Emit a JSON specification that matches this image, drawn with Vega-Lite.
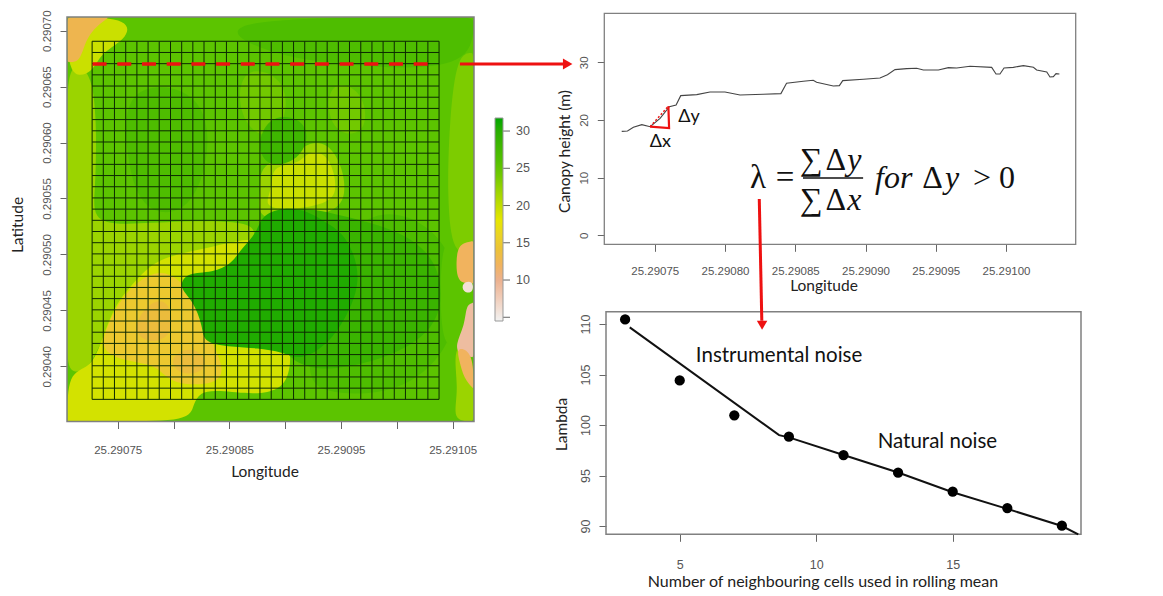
{
"$schema":"https://vega.github.io/schema/vega-lite/v6.json",
"width":1163,"height":596,"autosize":"none","padding":0,"background":"white",
"config":{"view":{"stroke":null},"axis":{"domain":false,"grid":false,"tickColor":"#666666","tickSize":7,"labelColor":"#555555","labelFont":"Liberation Sans","labelFontSize":11.5,"titleFont":"Lato","titleFontSize":15.5,"titleFontWeight":"normal","titleColor":"#222222","titleBaseline":"middle","labelOverlap":false,"labelBound":false,"labelFlush":false}},
"resolve":{"scale":{"x":"independent","y":"independent","fill":"independent"},"axis":{"x":"independent","y":"independent"}},
"layer":[
{"encoding":{
"x":{"field":"lon_e5","type":"quantitative","scale":{"domain":[70.46,106.91],"range":[67,474],"nice":false,"zero":false},"axis":{"orient":"bottom","offset":-174.5,"title":"Longitude","titleX":264.5,"titleY":50,"labelPadding":15.5,"values":[75,80,85,90,95,100,105],"labelExpr":"datum.value%10==5?format(25.29+datum.value*1e-5,'.5f'):''"}},
"y":{"field":"lat_e5","type":"quantitative","scale":{"domain":[35.07,71.22],"range":[421.5,17],"nice":false,"zero":false},"axis":{"orient":"left","offset":-67,"title":"Latitude","titleX":-50,"titleY":224.5,"labelAngle":-90,"labelAlign":"center","labelBaseline":"middle","labelPadding":13,"values":[40,45,50,55,60,65,70],"labelExpr":"format(0.29+datum.value*1e-5,'.5f')"}}},
"layer":[
{"data":{"values":[{"lon_e5":70.46,"lon_end":106.91,"lat_e5":35.07,"lat_end":71.22,"height_m":25}]},
"mark":{"type":"rect"},
"encoding":{"x2":{"field":"lon_end"},"y2":{"field":"lat_end"},
"fill":{"field":"height_m","type":"quantitative","scale":{"domain":[4.5,10,13,18,25,31.75],"range":["#F2F2F2","#ECB18E","#EAB840","#E6E600","#5CC400","#00A600"]},"legend":{"orient":"none","legendX":495,"legendY":118,"title":null,"gradientLength":203,"gradientThickness":8,"gradientStrokeColor":"#999999","gradientStrokeWidth":1,"values":[10,15,20,25,30],"labelOffset":13,"labelColor":"#555555","labelFont":"Liberation Sans","labelFontSize":12.5,"labelOverlap":false}}}},
{"data":{"values":[
{"p":"a","height_m":26.5,"k":1,"lon_e5":82,"lat_e5":71.2},{"p":"a","height_m":26.5,"k":2,"lon_e5":106.86,"lat_e5":71.2},{"p":"a","height_m":26.5,"k":3,"lon_e5":106.86,"lat_e5":71.2},{"p":"a","height_m":26.5,"k":4,"lon_e5":106.86,"lat_e5":67.5},{"p":"a","height_m":26.5,"k":5,"lon_e5":102.07,"lat_e5":66.48},{"p":"a","height_m":26.5,"k":6,"lon_e5":94.9,"lat_e5":67},{"p":"a","height_m":26.5,"k":7,"lon_e5":88.6,"lat_e5":67.8},
{"p":"b","height_m":22,"k":1,"lon_e5":70.5,"lat_e5":67.4},{"p":"b","height_m":22,"k":2,"lon_e5":72.7,"lat_e5":66.48},{"p":"b","height_m":22,"k":3,"lon_e5":73.06,"lat_e5":62},{"p":"b","height_m":22,"k":4,"lon_e5":73.06,"lat_e5":59.3},{"p":"b","height_m":22,"k":5,"lon_e5":73,"lat_e5":56},{"p":"b","height_m":22,"k":6,"lon_e5":72.7,"lat_e5":53.08},{"p":"b","height_m":22,"k":7,"lon_e5":75.2,"lat_e5":52.6},{"p":"b","height_m":22,"k":8,"lon_e5":80.6,"lat_e5":53},{"p":"b","height_m":22,"k":9,"lon_e5":86.85,"lat_e5":53},{"p":"b","height_m":22,"k":10,"lon_e5":87.56,"lat_e5":51.74},{"p":"b","height_m":22,"k":11,"lon_e5":85.95,"lat_e5":49.5},{"p":"b","height_m":22,"k":12,"lon_e5":77,"lat_e5":46.82},{"p":"b","height_m":22,"k":13,"lon_e5":73.4,"lat_e5":42.35},{"p":"b","height_m":22,"k":14,"lon_e5":72.52,"lat_e5":39.67},{"p":"b","height_m":22,"k":15,"lon_e5":70.5,"lat_e5":39.2},{"p":"b","height_m":22,"k":16,"lon_e5":70.5,"lat_e5":42},{"p":"b","height_m":22,"k":17,"lon_e5":70.5,"lat_e5":47},{"p":"b","height_m":22,"k":18,"lon_e5":70.5,"lat_e5":53},{"p":"b","height_m":22,"k":19,"lon_e5":70.5,"lat_e5":57},{"p":"b","height_m":22,"k":20,"lon_e5":70.5,"lat_e5":62},
{"p":"c","height_m":23.5,"k":1,"lon_e5":105.4,"lat_e5":68},{"p":"c","height_m":23.5,"k":2,"lon_e5":106.86,"lat_e5":68},{"p":"c","height_m":23.5,"k":3,"lon_e5":106.86,"lat_e5":68},{"p":"c","height_m":23.5,"k":4,"lon_e5":106.86,"lat_e5":50.2},{"p":"c","height_m":23.5,"k":5,"lon_e5":106.86,"lat_e5":50.2},{"p":"c","height_m":23.5,"k":6,"lon_e5":105,"lat_e5":49.9},{"p":"c","height_m":23.5,"k":7,"lon_e5":104.5,"lat_e5":54.9},{"p":"c","height_m":23.5,"k":8,"lon_e5":104.7,"lat_e5":62},
{"p":"c2","height_m":22,"k":1,"lon_e5":104.9,"lat_e5":41.9},{"p":"c2","height_m":22,"k":2,"lon_e5":106.86,"lat_e5":42.2},{"p":"c2","height_m":22,"k":3,"lon_e5":106.86,"lat_e5":35.1},{"p":"c2","height_m":22,"k":4,"lon_e5":106.86,"lat_e5":35.1},{"p":"c2","height_m":22,"k":5,"lon_e5":104.9,"lat_e5":35.1},{"p":"c2","height_m":22,"k":6,"lon_e5":105.6,"lat_e5":37.9},
{"p":"d","height_m":26.5,"k":1,"lon_e5":75.65,"lat_e5":65.14},{"p":"d","height_m":26.5,"k":2,"lon_e5":81.47,"lat_e5":65.14},{"p":"d","height_m":26.5,"k":3,"lon_e5":83.7,"lat_e5":61.12},{"p":"d","height_m":26.5,"k":4,"lon_e5":81.9,"lat_e5":53.5},{"p":"d","height_m":26.5,"k":5,"lon_e5":77,"lat_e5":53.5},{"p":"d","height_m":26.5,"k":6,"lon_e5":75.65,"lat_e5":59.3},
{"p":"e","height_m":24,"k":1,"lon_e5":86,"lat_e5":67},{"p":"e","height_m":24,"k":2,"lon_e5":90,"lat_e5":66},{"p":"e","height_m":24,"k":3,"lon_e5":90.3,"lat_e5":62},{"p":"e","height_m":24,"k":4,"lon_e5":88,"lat_e5":60},{"p":"e","height_m":24,"k":5,"lon_e5":85.7,"lat_e5":62.5},
{"p":"e2","height_m":24,"k":1,"lon_e5":94,"lat_e5":65.6},{"p":"e2","height_m":24,"k":2,"lon_e5":97,"lat_e5":64.8},{"p":"e2","height_m":24,"k":3,"lon_e5":97.5,"lat_e5":61},{"p":"e2","height_m":24,"k":4,"lon_e5":95,"lat_e5":60.5},{"p":"e2","height_m":24,"k":5,"lon_e5":93.7,"lat_e5":62.5},
{"p":"f","height_m":22,"k":1,"lon_e5":87.56,"lat_e5":58},{"p":"f","height_m":22,"k":2,"lon_e5":91.3,"lat_e5":59.3},{"p":"f","height_m":22,"k":3,"lon_e5":92.2,"lat_e5":60},{"p":"f","height_m":22,"k":4,"lon_e5":93.8,"lat_e5":60},{"p":"f","height_m":22,"k":5,"lon_e5":95.1,"lat_e5":58},{"p":"f","height_m":22,"k":6,"lon_e5":95.5,"lat_e5":55.3},{"p":"f","height_m":22,"k":7,"lon_e5":94.5,"lat_e5":53.8},{"p":"f","height_m":22,"k":8,"lon_e5":90.9,"lat_e5":53.1},{"p":"f","height_m":22,"k":9,"lon_e5":87.3,"lat_e5":53.1},{"p":"f","height_m":22,"k":10,"lon_e5":87.9,"lat_e5":55.8},
{"p":"g","height_m":19.5,"k":1,"lon_e5":88.8,"lat_e5":57.55},{"p":"g","height_m":19.5,"k":2,"lon_e5":89.8,"lat_e5":58},{"p":"g","height_m":19.5,"k":3,"lon_e5":91.3,"lat_e5":58.17},{"p":"g","height_m":19.5,"k":4,"lon_e5":91.95,"lat_e5":59.15},{"p":"g","height_m":19.5,"k":5,"lon_e5":93.4,"lat_e5":59.15},{"p":"g","height_m":19.5,"k":6,"lon_e5":94.3,"lat_e5":57.8},{"p":"g","height_m":19.5,"k":7,"lon_e5":94.64,"lat_e5":55.76},{"p":"g","height_m":19.5,"k":8,"lon_e5":94,"lat_e5":54.6},{"p":"g","height_m":19.5,"k":9,"lon_e5":90.7,"lat_e5":53.97},{"p":"g","height_m":19.5,"k":10,"lon_e5":88,"lat_e5":54.15},{"p":"g","height_m":19.5,"k":11,"lon_e5":88.8,"lat_e5":55.76},
{"p":"h","height_m":28,"k":1,"lon_e5":87.9,"lat_e5":61.12},{"p":"h","height_m":28,"k":2,"lon_e5":89.1,"lat_e5":62.46},{"p":"h","height_m":28,"k":3,"lon_e5":91.3,"lat_e5":62.2},{"p":"h","height_m":28,"k":4,"lon_e5":92.2,"lat_e5":60.67},{"p":"h","height_m":28,"k":5,"lon_e5":91.3,"lat_e5":58.44},{"p":"h","height_m":28,"k":6,"lon_e5":88.6,"lat_e5":57.7},{"p":"h","height_m":28,"k":7,"lon_e5":87.56,"lat_e5":59.3},
{"p":"i","height_m":19,"k":1,"lon_e5":70.5,"lat_e5":39.5},{"p":"i","height_m":19,"k":2,"lon_e5":72.52,"lat_e5":39.85},{"p":"i","height_m":19,"k":3,"lon_e5":73.4,"lat_e5":41.73},{"p":"i","height_m":19,"k":4,"lon_e5":74.6,"lat_e5":45.3},{"p":"i","height_m":19,"k":5,"lon_e5":76.4,"lat_e5":47.45},{"p":"i","height_m":19,"k":6,"lon_e5":78.5,"lat_e5":49.68},{"p":"i","height_m":19,"k":7,"lon_e5":82.37,"lat_e5":50.4},{"p":"i","height_m":19,"k":8,"lon_e5":86.67,"lat_e5":51.47},{"p":"i","height_m":19,"k":9,"lon_e5":88.2,"lat_e5":51.29},{"p":"i","height_m":19,"k":10,"lon_e5":88.64,"lat_e5":45.93},{"p":"i","height_m":19,"k":11,"lon_e5":90.6,"lat_e5":41.9},{"p":"i","height_m":19,"k":12,"lon_e5":90.4,"lat_e5":39.23},{"p":"i","height_m":19,"k":13,"lon_e5":89.5,"lat_e5":37.9},{"p":"i","height_m":19,"k":14,"lon_e5":87.3,"lat_e5":37.44},{"p":"i","height_m":19,"k":15,"lon_e5":83.9,"lat_e5":37.9},{"p":"i","height_m":19,"k":16,"lon_e5":82.37,"lat_e5":37.7},{"p":"i","height_m":19,"k":17,"lon_e5":81.74,"lat_e5":36.55},{"p":"i","height_m":19,"k":18,"lon_e5":81.47,"lat_e5":35.1},{"p":"i","height_m":19,"k":19,"lon_e5":75.2,"lat_e5":35.1},{"p":"i","height_m":19,"k":20,"lon_e5":70.5,"lat_e5":35.1},{"p":"i","height_m":19,"k":21,"lon_e5":70.5,"lat_e5":35.1},{"p":"i","height_m":19,"k":22,"lon_e5":70.5,"lat_e5":35.1},
{"p":"j","height_m":15,"k":1,"lon_e5":73.4,"lat_e5":41.28},{"p":"j","height_m":15,"k":2,"lon_e5":73.95,"lat_e5":43.43},{"p":"j","height_m":15,"k":3,"lon_e5":75.4,"lat_e5":46.38},{"p":"j","height_m":15,"k":4,"lon_e5":77.9,"lat_e5":48.43},{"p":"j","height_m":15,"k":5,"lon_e5":79.7,"lat_e5":48.43},{"p":"j","height_m":15,"k":6,"lon_e5":81.65,"lat_e5":46.64},{"p":"j","height_m":15,"k":7,"lon_e5":83.1,"lat_e5":42.8},{"p":"j","height_m":15,"k":8,"lon_e5":84.6,"lat_e5":39.85},{"p":"j","height_m":15,"k":9,"lon_e5":84,"lat_e5":38.33},{"p":"j","height_m":15,"k":10,"lon_e5":79.7,"lat_e5":38.33},{"p":"j","height_m":15,"k":11,"lon_e5":78.6,"lat_e5":40.12},{"p":"j","height_m":15,"k":12,"lon_e5":76.1,"lat_e5":40.39},
{"p":"k","height_m":13.5,"k":1,"lon_e5":76.1,"lat_e5":43.25},{"p":"k","height_m":13.5,"k":2,"lon_e5":77.9,"lat_e5":45.93},{"p":"k","height_m":13.5,"k":3,"lon_e5":79.7,"lat_e5":45.93},{"p":"k","height_m":13.5,"k":4,"lon_e5":80.1,"lat_e5":42.8},{"p":"k","height_m":13.5,"k":5,"lon_e5":77.9,"lat_e5":41.9},
{"p":"k2","height_m":13.5,"k":1,"lon_e5":79.7,"lat_e5":41},{"p":"k2","height_m":13.5,"k":2,"lon_e5":81.9,"lat_e5":41.9},{"p":"k2","height_m":13.5,"k":3,"lon_e5":83.27,"lat_e5":40.1},{"p":"k2","height_m":13.5,"k":4,"lon_e5":81.9,"lat_e5":39.2},{"p":"k2","height_m":13.5,"k":5,"lon_e5":80.1,"lat_e5":39.5},
{"p":"m","height_m":26.5,"k":1,"lon_e5":95.8,"lat_e5":55.76},{"p":"m","height_m":26.5,"k":2,"lon_e5":104.76,"lat_e5":52.2},{"p":"m","height_m":26.5,"k":3,"lon_e5":105.5,"lat_e5":45.93},{"p":"m","height_m":26.5,"k":4,"lon_e5":104.76,"lat_e5":41.46},{"p":"m","height_m":26.5,"k":5,"lon_e5":100.3,"lat_e5":37.44},{"p":"m","height_m":26.5,"k":6,"lon_e5":93.1,"lat_e5":37.44},{"p":"m","height_m":26.5,"k":7,"lon_e5":91.3,"lat_e5":39.67},
{"p":"l","height_m":28.5,"k":1,"lon_e5":91.3,"lat_e5":54.4},{"p":"l","height_m":28.5,"k":2,"lon_e5":94.9,"lat_e5":53.5},{"p":"l","height_m":28.5,"k":3,"lon_e5":100.3,"lat_e5":52.2},{"p":"l","height_m":28.5,"k":4,"lon_e5":103.86,"lat_e5":49.5},{"p":"l","height_m":28.5,"k":5,"lon_e5":104.3,"lat_e5":44.14},{"p":"l","height_m":28.5,"k":6,"lon_e5":100.3,"lat_e5":41},{"p":"l","height_m":28.5,"k":7,"lon_e5":94,"lat_e5":39.5},{"p":"l","height_m":28.5,"k":8,"lon_e5":91.3,"lat_e5":40.12},{"p":"l","height_m":28.5,"k":9,"lon_e5":89.8,"lat_e5":41.28},{"p":"l","height_m":28.5,"k":10,"lon_e5":87.74,"lat_e5":45.93},{"p":"l","height_m":28.5,"k":11,"lon_e5":87.74,"lat_e5":53.08},
{"p":"n","height_m":30.5,"k":1,"lon_e5":80.4,"lat_e5":47.09},{"p":"n","height_m":30.5,"k":2,"lon_e5":81.2,"lat_e5":48.43},{"p":"n","height_m":30.5,"k":3,"lon_e5":83.5,"lat_e5":48.34},{"p":"n","height_m":30.5,"k":4,"lon_e5":85.3,"lat_e5":49.24},{"p":"n","height_m":30.5,"k":5,"lon_e5":85.95,"lat_e5":50.4},{"p":"n","height_m":30.5,"k":6,"lon_e5":87.56,"lat_e5":52},{"p":"n","height_m":30.5,"k":7,"lon_e5":87.9,"lat_e5":53.8},{"p":"n","height_m":30.5,"k":8,"lon_e5":91.3,"lat_e5":54.4},{"p":"n","height_m":30.5,"k":9,"lon_e5":94,"lat_e5":52.63},{"p":"n","height_m":30.5,"k":10,"lon_e5":95.5,"lat_e5":51.7},{"p":"n","height_m":30.5,"k":11,"lon_e5":97.1,"lat_e5":47.7},{"p":"n","height_m":30.5,"k":12,"lon_e5":94.9,"lat_e5":43.25},{"p":"n","height_m":30.5,"k":13,"lon_e5":93.1,"lat_e5":41.46},{"p":"n","height_m":30.5,"k":14,"lon_e5":91.3,"lat_e5":40.57},{"p":"n","height_m":30.5,"k":15,"lon_e5":89.8,"lat_e5":41.28},{"p":"n","height_m":30.5,"k":16,"lon_e5":87.47,"lat_e5":41.64},{"p":"n","height_m":30.5,"k":17,"lon_e5":85.3,"lat_e5":41.73},{"p":"n","height_m":30.5,"k":18,"lon_e5":82.64,"lat_e5":42.09},{"p":"n","height_m":30.5,"k":19,"lon_e5":82.64,"lat_e5":43.5},{"p":"n","height_m":30.5,"k":20,"lon_e5":81.74,"lat_e5":45.93},
{"p":"o","height_m":25,"k":1,"lon_e5":103.86,"lat_e5":51.29},{"p":"o","height_m":25,"k":2,"lon_e5":105.2,"lat_e5":51.29},{"p":"o","height_m":25,"k":3,"lon_e5":106.73,"lat_e5":45.93},{"p":"o","height_m":25,"k":4,"lon_e5":105.5,"lat_e5":41.9},{"p":"o","height_m":25,"k":5,"lon_e5":103.86,"lat_e5":41.46},
{"p":"q","height_m":12,"k":1,"lon_e5":105.3,"lat_e5":49.3},{"p":"q","height_m":12,"k":2,"lon_e5":105.5,"lat_e5":51},{"p":"q","height_m":12,"k":3,"lon_e5":106.86,"lat_e5":51.2},{"p":"q","height_m":12,"k":4,"lon_e5":106.86,"lat_e5":51.2},{"p":"q","height_m":12,"k":5,"lon_e5":106.86,"lat_e5":47.4},{"p":"q","height_m":12,"k":6,"lon_e5":106.86,"lat_e5":47.4},{"p":"q","height_m":12,"k":7,"lon_e5":105.9,"lat_e5":47.4},{"p":"q","height_m":12,"k":8,"lon_e5":105.4,"lat_e5":47.9},
{"p":"r","height_m":6,"k":1,"lon_e5":105.8,"lat_e5":47.5},{"p":"r","height_m":6,"k":2,"lon_e5":106.86,"lat_e5":47.7},{"p":"r","height_m":6,"k":3,"lon_e5":106.86,"lat_e5":46.5},{"p":"r","height_m":6,"k":4,"lon_e5":105.9,"lat_e5":46.6},
{"p":"s","height_m":9,"k":1,"lon_e5":105.2,"lat_e5":41.9},{"p":"s","height_m":9,"k":2,"lon_e5":106.1,"lat_e5":43.7},{"p":"s","height_m":9,"k":3,"lon_e5":106.2,"lat_e5":45.5},{"p":"s","height_m":9,"k":4,"lon_e5":106.86,"lat_e5":45.7},{"p":"s","height_m":9,"k":5,"lon_e5":106.86,"lat_e5":45.7},{"p":"s","height_m":9,"k":6,"lon_e5":106.86,"lat_e5":40.8},{"p":"s","height_m":9,"k":7,"lon_e5":106.86,"lat_e5":40.8},{"p":"s","height_m":9,"k":8,"lon_e5":105.6,"lat_e5":41},
{"p":"t","height_m":12,"k":1,"lon_e5":105.3,"lat_e5":41.8},{"p":"t","height_m":12,"k":2,"lon_e5":106.86,"lat_e5":41.3},{"p":"t","height_m":12,"k":3,"lon_e5":106.86,"lat_e5":38},{"p":"t","height_m":12,"k":4,"lon_e5":106.86,"lat_e5":38},{"p":"t","height_m":12,"k":5,"lon_e5":106,"lat_e5":38.9},{"p":"t","height_m":12,"k":6,"lon_e5":105.6,"lat_e5":40.5},
{"p":"u","height_m":19.5,"k":1,"lon_e5":70.5,"lat_e5":71.2},{"p":"u","height_m":19.5,"k":2,"lon_e5":70.5,"lat_e5":71.2},{"p":"u","height_m":19.5,"k":3,"lon_e5":75.9,"lat_e5":71.2},{"p":"u","height_m":19.5,"k":4,"lon_e5":76.1,"lat_e5":69.43},{"p":"u","height_m":19.5,"k":5,"lon_e5":73.4,"lat_e5":68},{"p":"u","height_m":19.5,"k":6,"lon_e5":72.8,"lat_e5":66.2},{"p":"u","height_m":19.5,"k":7,"lon_e5":70.5,"lat_e5":65.59},
{"p":"v","height_m":12.5,"k":1,"lon_e5":70.5,"lat_e5":71.2},{"p":"v","height_m":12.5,"k":2,"lon_e5":70.5,"lat_e5":71.2},{"p":"v","height_m":12.5,"k":3,"lon_e5":74.2,"lat_e5":71.2},{"p":"v","height_m":12.5,"k":4,"lon_e5":74.2,"lat_e5":71.2},{"p":"v","height_m":12.5,"k":5,"lon_e5":72.7,"lat_e5":70.06},{"p":"v","height_m":12.5,"k":6,"lon_e5":72,"lat_e5":68.72},{"p":"v","height_m":12.5,"k":7,"lon_e5":71.6,"lat_e5":67.2},{"p":"v","height_m":12.5,"k":8,"lon_e5":70.5,"lat_e5":67.2},{"p":"v","height_m":12.5,"k":9,"lon_e5":70.5,"lat_e5":67.2}
]},
"mark":{"type":"line","interpolate":"basis-closed","strokeWidth":0},
"encoding":{"detail":{"field":"p"},"order":{"field":"k","type":"quantitative"},"fill":{"field":"height_m","type":"quantitative"}}},
{"data":{"values":[{"lon_e5":72.71,"lat_e5":37.05,"lat_end":69.05},{"lon_e5":73.71,"lat_e5":37.05,"lat_end":69.05},{"lon_e5":74.71,"lat_e5":37.05,"lat_end":69.05},{"lon_e5":75.72,"lat_e5":37.05,"lat_end":69.05},{"lon_e5":76.72,"lat_e5":37.05,"lat_end":69.05},{"lon_e5":77.72,"lat_e5":37.05,"lat_end":69.05},{"lon_e5":78.72,"lat_e5":37.05,"lat_end":69.05},{"lon_e5":79.73,"lat_e5":37.05,"lat_end":69.05},{"lon_e5":80.73,"lat_e5":37.05,"lat_end":69.05},{"lon_e5":81.73,"lat_e5":37.05,"lat_end":69.05},{"lon_e5":82.73,"lat_e5":37.05,"lat_end":69.05},{"lon_e5":83.74,"lat_e5":37.05,"lat_end":69.05},{"lon_e5":84.74,"lat_e5":37.05,"lat_end":69.05},{"lon_e5":85.74,"lat_e5":37.05,"lat_end":69.05},{"lon_e5":86.74,"lat_e5":37.05,"lat_end":69.05},{"lon_e5":87.74,"lat_e5":37.05,"lat_end":69.05},{"lon_e5":88.75,"lat_e5":37.05,"lat_end":69.05},{"lon_e5":89.75,"lat_e5":37.05,"lat_end":69.05},{"lon_e5":90.75,"lat_e5":37.05,"lat_end":69.05},{"lon_e5":91.75,"lat_e5":37.05,"lat_end":69.05},{"lon_e5":92.76,"lat_e5":37.05,"lat_end":69.05},{"lon_e5":93.76,"lat_e5":37.05,"lat_end":69.05},{"lon_e5":94.76,"lat_e5":37.05,"lat_end":69.05},{"lon_e5":95.76,"lat_e5":37.05,"lat_end":69.05},{"lon_e5":96.77,"lat_e5":37.05,"lat_end":69.05},{"lon_e5":97.77,"lat_e5":37.05,"lat_end":69.05},{"lon_e5":98.77,"lat_e5":37.05,"lat_end":69.05},{"lon_e5":99.77,"lat_e5":37.05,"lat_end":69.05},{"lon_e5":100.77,"lat_e5":37.05,"lat_end":69.05},{"lon_e5":101.78,"lat_e5":37.05,"lat_end":69.05},{"lon_e5":102.78,"lat_e5":37.05,"lat_end":69.05},{"lon_e5":103.78,"lat_e5":37.05,"lat_end":69.05}]},
"mark":{"type":"rule","color":"#0c2a00","strokeWidth":1},
"encoding":{"y2":{"field":"lat_end"}}},
{"data":{"values":[{"lat_e5":69.05,"lon_e5":72.71,"lon_end":103.78},{"lat_e5":68.05,"lon_e5":72.71,"lon_end":103.78},{"lat_e5":67.05,"lon_e5":72.71,"lon_end":103.78},{"lat_e5":66.05,"lon_e5":72.71,"lon_end":103.78},{"lat_e5":65.05,"lon_e5":72.71,"lon_end":103.78},{"lat_e5":64.05,"lon_e5":72.71,"lon_end":103.78},{"lat_e5":63.05,"lon_e5":72.71,"lon_end":103.78},{"lat_e5":62.05,"lon_e5":72.71,"lon_end":103.78},{"lat_e5":61.05,"lon_e5":72.71,"lon_end":103.78},{"lat_e5":60.05,"lon_e5":72.71,"lon_end":103.78},{"lat_e5":59.05,"lon_e5":72.71,"lon_end":103.78},{"lat_e5":58.05,"lon_e5":72.71,"lon_end":103.78},{"lat_e5":57.05,"lon_e5":72.71,"lon_end":103.78},{"lat_e5":56.05,"lon_e5":72.71,"lon_end":103.78},{"lat_e5":55.05,"lon_e5":72.71,"lon_end":103.78},{"lat_e5":54.05,"lon_e5":72.71,"lon_end":103.78},{"lat_e5":53.05,"lon_e5":72.71,"lon_end":103.78},{"lat_e5":52.05,"lon_e5":72.71,"lon_end":103.78},{"lat_e5":51.05,"lon_e5":72.71,"lon_end":103.78},{"lat_e5":50.05,"lon_e5":72.71,"lon_end":103.78},{"lat_e5":49.05,"lon_e5":72.71,"lon_end":103.78},{"lat_e5":48.05,"lon_e5":72.71,"lon_end":103.78},{"lat_e5":47.05,"lon_e5":72.71,"lon_end":103.78},{"lat_e5":46.05,"lon_e5":72.71,"lon_end":103.78},{"lat_e5":45.05,"lon_e5":72.71,"lon_end":103.78},{"lat_e5":44.05,"lon_e5":72.71,"lon_end":103.78},{"lat_e5":43.05,"lon_e5":72.71,"lon_end":103.78},{"lat_e5":42.05,"lon_e5":72.71,"lon_end":103.78},{"lat_e5":41.05,"lon_e5":72.71,"lon_end":103.78},{"lat_e5":40.05,"lon_e5":72.71,"lon_end":103.78},{"lat_e5":39.05,"lon_e5":72.71,"lon_end":103.78},{"lat_e5":38.05,"lon_e5":72.71,"lon_end":103.78},{"lat_e5":37.05,"lon_e5":72.71,"lon_end":103.78}]},
"mark":{"type":"rule","color":"#0c2a00","strokeWidth":1},
"encoding":{"x2":{"field":"lon_end"}}},
{"data":{"values":[{"lon_e5":72.75,"lon_end":102.79,"lat_e5":67.02}]},
"mark":{"type":"rule","color":"#ee1111","strokeWidth":3.5,"strokeDash":[14,10.7]},
"encoding":{"x2":{"field":"lon_end"}}},
{"data":{"values":[{"lon_e5":70.46,"lon_end":106.91,"lat_e5":35.07,"lat_end":71.22}]},
"mark":{"type":"rect","fillOpacity":0,"stroke":"#808080","strokeWidth":1.5},
"encoding":{"x2":{"field":"lon_end"},"y2":{"field":"lat_end"}}},
{"data":{"values":[{"lon_e5":105.65,"lon_end":114.88,"lat_e5":67.02}]},
"mark":{"type":"rule","color":"#ee1111","strokeWidth":2.8},
"encoding":{"x2":{"field":"lon_end"}}},
{"data":{"values":[{"lon_e5":115.3,"lat_e5":67.02}]},
"mark":{"type":"point","shape":"triangle-right","filled":true,"color":"#ee1111","size":120,"opacity":1}}
]},
{"data":{"values":[{"tick":5,"a":0,"b":1},{"tick":10,"a":0,"b":1},{"tick":15,"a":0,"b":1},{"tick":20,"a":0,"b":1},{"tick":25,"a":0,"b":1},{"tick":30,"a":0,"b":1}]},
"mark":{"type":"rule","color":"#666666","strokeWidth":1},
"encoding":{"x":{"field":"a","type":"quantitative","scale":{"domain":[0,1],"range":[502,510]},"axis":null},"x2":{"field":"b"},"y":{"field":"tick","type":"quantitative","scale":{"domain":[4.5,31.75],"range":[321,118],"nice":false,"zero":false},"axis":null}}},
{"encoding":{
"x":{"field":"lon_e5","type":"quantitative","scale":{"domain":[71.41,104.96],"range":[604.3,1075.7],"nice":false,"zero":false},"axis":{"orient":"bottom","offset":-351.7,"title":"Longitude","titleX":823.5,"titleY":41,"labelPadding":14.4,"values":[75,80,85,90,95,100],"labelExpr":"format(25.29+datum.value*1e-5,'.5f')"}},
"y":{"field":"height_m","type":"quantitative","scale":{"domain":[-1.56,38.5],"range":[244.3,13.3],"nice":false,"zero":false},"axis":{"orient":"left","offset":-604.3,"title":"Canopy height (m)","titleX":-40,"titleY":151,"labelAngle":-90,"labelAlign":"center","labelBaseline":"middle","labelPadding":13,"values":[0,10,20,30]}}},
"layer":[
{"data":{"values":[{"lon_e5":71.41,"lon_end":104.96,"height_m":-1.56,"h_end":38.5}]},
"mark":{"type":"rect","fillOpacity":0,"stroke":"#808080","strokeWidth":1.3},
"encoding":{"x2":{"field":"lon_end"},"y2":{"field":"h_end"}}},
{"data":{"values":[{"lon_e5":72.65,"height_m":18.03},{"lon_e5":73.06,"height_m":18.09},{"lon_e5":73.48,"height_m":18.73},{"lon_e5":74.08,"height_m":19.19},{"lon_e5":74.67,"height_m":18.84},{"lon_e5":75.38,"height_m":20.29},{"lon_e5":76.04,"height_m":22.31},{"lon_e5":76.52,"height_m":22.6},{"lon_e5":76.85,"height_m":24.22},{"lon_e5":77.99,"height_m":24.39},{"lon_e5":78.93,"height_m":24.86},{"lon_e5":80,"height_m":24.86},{"lon_e5":81.07,"height_m":24.34},{"lon_e5":82.73,"height_m":24.45},{"lon_e5":83.98,"height_m":24.57},{"lon_e5":84.38,"height_m":26.36},{"lon_e5":85.57,"height_m":26.71},{"lon_e5":86.28,"height_m":26.88},{"lon_e5":86.52,"height_m":26.53},{"lon_e5":87.71,"height_m":25.9},{"lon_e5":88.14,"height_m":25.95},{"lon_e5":88.38,"height_m":26.82},{"lon_e5":89.85,"height_m":27.05},{"lon_e5":91.03,"height_m":27.28},{"lon_e5":91.56,"height_m":27.86},{"lon_e5":92.1,"height_m":28.73},{"lon_e5":92.93,"height_m":28.9},{"lon_e5":93.64,"height_m":28.96},{"lon_e5":94.12,"height_m":28.67},{"lon_e5":95.19,"height_m":28.67},{"lon_e5":95.9,"height_m":29.08},{"lon_e5":96.49,"height_m":29.02},{"lon_e5":97.44,"height_m":29.31},{"lon_e5":98.98,"height_m":29.13},{"lon_e5":99.29,"height_m":27.98},{"lon_e5":99.57,"height_m":27.98},{"lon_e5":99.86,"height_m":29.02},{"lon_e5":100.52,"height_m":29.13},{"lon_e5":101.24,"height_m":29.42},{"lon_e5":101.95,"height_m":29.13},{"lon_e5":102.18,"height_m":28.67},{"lon_e5":102.9,"height_m":28.32},{"lon_e5":103.13,"height_m":27.46},{"lon_e5":103.37,"height_m":27.51},{"lon_e5":103.56,"height_m":28.03},{"lon_e5":103.8,"height_m":27.98}]},
"mark":{"type":"line","color":"#444444","strokeWidth":1.1}},
{"data":{"values":[{"k":1,"lon_e5":74.67,"height_m":18.84},{"k":2,"lon_e5":76.02,"height_m":18.6},{"k":3,"lon_e5":75.97,"height_m":22.4}]},
"mark":{"type":"line","color":"#ee1111","strokeWidth":2.2},"encoding":{"order":{"field":"k","type":"quantitative"}}},
{"data":{"values":[{"k":1,"lon_e5":74.67,"height_m":18.84},{"k":2,"lon_e5":75.97,"height_m":22.4}]},
"mark":{"type":"line","color":"#ee1111","strokeWidth":1.4,"strokeDash":[2,2]},"encoding":{"order":{"field":"k","type":"quantitative"}}},
{"data":{"values":[{"label":"Δx","lon_e5":75.4,"height_m":16.2},{"label":"Δy","lon_e5":77.44,"height_m":20.5}]},
"mark":{"type":"text","font":"Lato","fontSize":18,"color":"#111111","baseline":"middle"},"encoding":{"text":{"field":"label"}}},
{"data":{"values":[{"label":"λ","lon_e5":82.35,"height_m":9.95},{"label":"=","lon_e5":84.27,"height_m":9.95}]},
"mark":{"type":"text","font":"Liberation Serif","fontSize":33,"color":"#111111","baseline":"middle"},"encoding":{"text":{"field":"label"}}},
{"data":{"values":[{"label":"∑","lon_e5":86.97,"height_m":13.07},{"label":"Δ","lon_e5":88.62,"height_m":13.07},{"label":"∑","lon_e5":86.97,"height_m":6.14},{"label":"Δ","lon_e5":88.62,"height_m":6.14},{"label":"Δ","lon_e5":95.5,"height_m":9.95},{"label":"> 0","lon_e5":100.64,"height_m":9.95}]},
"mark":{"type":"text","font":"Liberation Serif","fontSize":32,"color":"#111111","baseline":"middle","align":"right"},"encoding":{"text":{"field":"label"}}},
{"data":{"values":[{"label":"y","lon_e5":88.7,"height_m":13.07},{"label":"x","lon_e5":88.7,"height_m":6.14},{"label":"for","lon_e5":90.68,"height_m":9.95},{"label":"y","lon_e5":95.66,"height_m":9.95}]},
"mark":{"type":"text","font":"Liberation Serif","fontStyle":"italic","fontSize":32,"color":"#111111","baseline":"middle","align":"left"},"encoding":{"text":{"field":"label"}}},
{"data":{"values":[{"lon_e5":85.55,"lon_end":89.83,"height_m":9.95}]},
"mark":{"type":"rule","color":"#111111","strokeWidth":1.5},"encoding":{"x2":{"field":"lon_end"}}}
]},
{"encoding":{
"x":{"field":"cells","type":"quantitative","scale":{"domain":[2.3,19.7],"range":[606,1081],"nice":false,"zero":false},"axis":{"orient":"bottom","offset":-61.7,"title":"Number of neighbouring cells used in rolling mean","titleX":822.5,"titleY":47.4,"titleFontSize":16,"labelPadding":17,"labelFontSize":12.5,"values":[5,10,15]}},
"y":{"field":"lambda","type":"quantitative","scale":{"domain":[89.18,111.22],"range":[534.3,311.7],"nice":false,"zero":false},"axis":{"orient":"left","offset":-606,"title":"Lambda","titleX":-45,"titleY":424,"labelAngle":-90,"labelAlign":"center","labelBaseline":"middle","labelPadding":14,"labelFontSize":12.5,"values":[90,95,100,105,110]}}},
"layer":[
{"data":{"values":[{"cells":2.3,"cells_end":19.7,"lambda":89.18,"lambda_end":111.22}]},
"mark":{"type":"rect","fillOpacity":0,"stroke":"#808080","strokeWidth":1.5},
"encoding":{"x2":{"field":"cells_end"},"y2":{"field":"lambda_end"}}},
{"data":{"values":[{"cells":3.17,"lambda":109.67},{"cells":8.64,"lambda":99},{"cells":9,"lambda":98.78},{"cells":11,"lambda":97.03},{"cells":13,"lambda":95.3},{"cells":15,"lambda":93.35},{"cells":17,"lambda":91.7},{"cells":19,"lambda":90},{"cells":19.6,"lambda":89.18}]},
"mark":{"type":"line","color":"#111111","strokeWidth":2}},
{"data":{"values":[{"cells":3,"lambda":110.46},{"cells":5,"lambda":104.42},{"cells":7,"lambda":100.96},{"cells":9,"lambda":98.84},{"cells":11,"lambda":97.03},{"cells":13,"lambda":95.28},{"cells":15,"lambda":93.4},{"cells":17,"lambda":91.78},{"cells":19,"lambda":90.03}]},
"mark":{"type":"circle","color":"#000000","size":105,"opacity":1}},
{"data":{"values":[{"label":"Instrumental noise","cells":8.64,"lambda":106.83},{"label":"Natural noise","cells":14.44,"lambda":98.32}]},
"mark":{"type":"text","font":"Lato","fontSize":20.5,"color":"#111111","baseline":"middle"},"encoding":{"text":{"field":"label"}}}
]},
{"encoding":{
"x":{"field":"lon_e5","type":"quantitative","scale":{"domain":[71.41,104.96],"range":[604.3,1075.7],"nice":false,"zero":false},"axis":null},
"y":{"field":"height_m","type":"quantitative","scale":{"domain":[-1.56,38.5],"range":[244.3,13.3],"nice":false,"zero":false},"axis":null}},
"layer":[
{"data":{"values":[{"lon_e5":82.44,"height_m":6.31},{"lon_e5":82.62,"height_m":-14.83}]},
"mark":{"type":"line","color":"#ee1111","strokeWidth":3}},
{"data":{"values":[{"lon_e5":82.64,"height_m":-15.6}]},
"mark":{"type":"point","shape":"triangle-down","filled":true,"color":"#ee1111","size":110,"opacity":1}}
]}
]}
